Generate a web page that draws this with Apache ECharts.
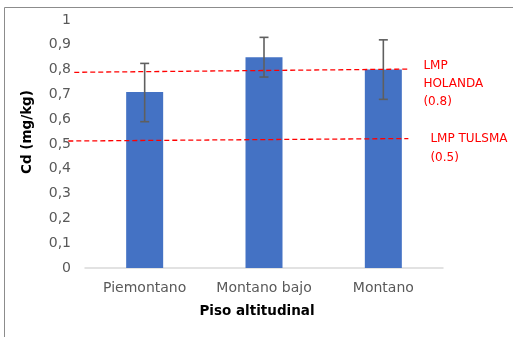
<!DOCTYPE html>
<html><head><meta charset="utf-8">
<script src="https://cdn.jsdelivr.net/npm/echarts@6/dist/echarts.min.js"></script>
<style>html,body{margin:0;padding:0;background:#fff}#c{width:513px;height:337px}</style>
</head><body><div id="c"></div>
<script>
const categories = ['Piemontano', 'Montano bajo', 'Montano'];
const cdMean = [0.71, 0.85, 0.80];
const errLow = [0.59, 0.77, 0.68];
const errHigh = [0.825, 0.93, 0.92];
const yTicks = ['0','0,1','0,2','0,3','0,4','0,5','0,6','0,7','0,8','0,9','1'];
// reference lines (value-space endpoints on a hidden continuous x axis, 0..3)
const lmpHolanda = [-0.09, 0.789, 2.71, 0.802];
const lmpTulsma = [-0.14, 0.512, 2.71, 0.522];
const lmpHolandaLabel = 'LMP\nHOLANDA\n(0.8)';
const lmpTulsmaLabel = 'LMP TULSMA\n(0.5)';

const font = 'DejaVu Sans';
const refLines = [
  {v: lmpHolanda, label: lmpHolandaLabel, dx: 15, dy: -12, lh: 18},
  {v: lmpTulsma, label: lmpTulsmaLabel, dx: 22, dy: -9, lh: 19}
];
const chart = echarts.init(document.getElementById('c'), null, {renderer: 'canvas'});
chart.setOption({
  animation: false,
  backgroundColor: '#fff',
  textStyle: {fontFamily: font},
  graphic: [{type: 'rect', shape: {x: 4.5, y: 7.5, width: 600, height: 400}, style: {fill: 'none', stroke: '#8c8c8c', lineWidth: 1}, silent: true}],
  grid: {left: 85, right: 70, top: 20, bottom: 69, containLabel: false},
  xAxis: [{
    type: 'category', data: categories,
    axisLine: {lineStyle: {color: '#d9d9d9', width: 1.5}},
    axisTick: {show: false},
    axisLabel: {color: '#595959', fontSize: 14, margin: 13, fontFamily: font, interval: 0},
    name: 'Piso altitudinal', nameLocation: 'middle', nameGap: 36,
    nameTextStyle: {color: '#000', fontSize: 13.5, fontWeight: 'bold', fontFamily: font, padding: [0, 14, 0, 0]}
  }, {
    type: 'value', min: 0, max: 3, show: false
  }],
  yAxis: {
    type: 'value', min: 0, max: 1, interval: 0.1,
    axisLine: {show: false}, axisTick: {show: false}, splitLine: {show: false},
    axisLabel: {color: '#595959', fontSize: 14, margin: 14, fontFamily: font,
      formatter: (v) => yTicks[Math.round(v * 10)]},
    name: 'Cd (mg/kg)', nameLocation: 'middle', nameGap: 51, nameRotate: 90,
    nameTextStyle: {color: '#000', fontSize: 13.5, fontWeight: 'bold', fontFamily: font, padding: [0, 0, 0, 24]}
  },
  series: [{
    type: 'bar', data: cdMean, barWidth: 37,
    itemStyle: {color: '#4472C4'}
  }, {
    type: 'custom', xAxisIndex: 0, z: 5,
    data: categories.map((c, i) => [i, errLow[i], errHigh[i]]),
    renderItem: function (params, api) {
      const lo = api.coord([api.value(0), api.value(1)]);
      const hi = api.coord([api.value(0), api.value(2)]);
      const hw = 4.5;
      const st = {stroke: '#5f5f5f', lineWidth: 1.6, fill: 'none'};
      return {type: 'group', children: [
        {type: 'line', shape: {x1: lo[0], y1: lo[1], x2: hi[0], y2: hi[1]}, style: st},
        {type: 'line', shape: {x1: lo[0] - hw, y1: lo[1], x2: lo[0] + hw, y2: lo[1]}, style: st},
        {type: 'line', shape: {x1: hi[0] - hw, y1: hi[1], x2: hi[0] + hw, y2: hi[1]}, style: st}
      ]};
    }
  }, {
    type: 'custom', xAxisIndex: 1, z: 6, clip: false,
    data: refLines.map(r => r.v),
    renderItem: function (params, api) {
      const r = refLines[params.dataIndex];
      const a = api.coord([api.value(0), api.value(1)]);
      const b = api.coord([api.value(2), api.value(3)]);
      return {type: 'group', children: [
        {type: 'line', shape: {x1: a[0], y1: a[1], x2: b[0], y2: b[1]},
          style: {stroke: '#ff0000', lineWidth: 1.3, lineDash: [5, 3], fill: 'none'}},
        {type: 'text', x: b[0] + r.dx, y: b[1] + r.dy,
          style: {text: r.label, fill: '#ff0000', fontSize: 12, fontFamily: font, lineHeight: r.lh, align: 'left', verticalAlign: 'top'}}
      ]};
    }
  }]
});
</script></body></html>
